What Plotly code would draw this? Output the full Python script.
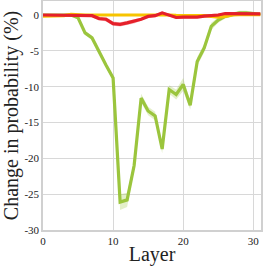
import plotly.graph_objects as go

layers = list(range(32))
green = [0, 0, 0, 0, 0, -0.4, -2.5, -3.2, -5.2, -7.0, -8.8, -26.1, -25.8, -21.0, -11.6, -13.4,
         -14.1, -18.7, -10.4, -11.1, -9.7, -12.6, -6.5, -4.6, -1.6, -0.7, -0.2, 0.1, 0.3, 0.3, 0.2, 0.1]
green_err = [0.1, 0.1, 0.1, 0.1, 0.1, 0.2, 0.3, 0.3, 0.3, 0.3, 0.4, 1.1, 1.0, 0.6, 0.6, 0.6,
             0.6, 0.6, 0.6, 0.7, 0.9, 0.6, 0.6, 0.6, 0.5, 0.4, 0.3, 0.3, 0.3, 0.3, 0.2, 0.2]
yellow = [-0.15, -0.15, -0.15, -0.1, 0.1, 0, 0, 0, 0, 0, 0, 0, 0, 0, 0, 0,
          0, 0.1, 0, -0.05, -0.1, -0.1, -0.1, -0.1, -0.2, -0.3, -0.2, 0, 0.05, 0.05, 0.05, 0.05]
yellow_err = [0.1] * 32
red = [0, 0, 0, 0, 0, 0, 0, -0.1, -0.5, -0.6, -1.2, -1.3, -1.1, -0.9, -0.6, -0.2,
       -0.1, 0.3, 0, -0.35, -0.3, -0.3, -0.3, -0.15, -0.1, 0, 0.2, 0.2, 0.15, 0.15, 0.15, 0.15]
red_err = [0.15, 0.15, 0.15, 0.15, 0.15, 0.15, 0.15, 0.2, 0.2, 0.3, 0.3, 0.3, 0.3, 0.3, 0.2, 0.2,
           0.2, 0.2, 0.2, 0.2, 0.2, 0.2, 0.2, 0.2, 0.2, 0.2, 0.15, 0.15, 0.15, 0.15, 0.15, 0.15]

x_ticks = [0, 10, 20, 30]
x_labels = ["0", "10", "20", "30"]
y_ticks = [0, -5, -10, -15, -20, -25, -30]
y_labels = ["0", "-5", "-10", "-15", "-20", "-25", "-30"]

series = [
    (green, green_err, "#9bc53d", "rgba(155,197,61,0.28)"),
    (yellow, yellow_err, "#f7c400", "rgba(247,196,0,0.28)"),
    (red, red_err, "#e5202a", "rgba(229,32,42,0.28)"),
]

fig = go.Figure()
for vals, err, col, fillcol in series:
    upper = [v + e for v, e in zip(vals, err)]
    lower = [v - e for v, e in zip(vals, err)]
    fig.add_trace(go.Scatter(x=layers + layers[::-1], y=upper + lower[::-1], fill="toself",
                             fillcolor=fillcol, line=dict(width=0), mode="lines",
                             hoverinfo="skip", showlegend=False))
    fig.add_trace(go.Scatter(x=layers, y=vals, mode="lines", line=dict(color=col, width=3.2),
                             showlegend=False))

font = "Liberation Serif"
fig.update_layout(
    width=266, height=266, autosize=False,
    margin=dict(l=43, r=5, t=1, b=36),
    paper_bgcolor="white", plot_bgcolor="white",
    font=dict(family=font, color="#222"),
    xaxis=dict(range=[0, 31.1], tickvals=x_ticks, ticktext=x_labels, showgrid=True,
               gridcolor="#d8d8d8", gridwidth=1.2,
               zeroline=False, showline=True, linecolor="#d0d0d0", linewidth=1.5, mirror=True,
               ticks="", tickfont=dict(size=11, family=font), automargin=False,
               title=dict(text="Layer", font=dict(size=20, family=font), standoff=4)),
    yaxis=dict(range=[-30, 1.95], tickvals=y_ticks, ticktext=y_labels, showgrid=True,
               gridcolor="#d8d8d8", gridwidth=1.2,
               zeroline=False, showline=True, linecolor="#d0d0d0", linewidth=1.5, mirror=True,
               ticks="", tickfont=dict(size=11, family=font), automargin=False,
               title=dict(text="Change in probability (%)", font=dict(size=20, family=font), standoff=2)),
)

fig.write_html("out.html", config={"responsive": False, "displayModeBar": False},
               post_script="document.body.style.margin='0';document.body.style.overflow='hidden';")
